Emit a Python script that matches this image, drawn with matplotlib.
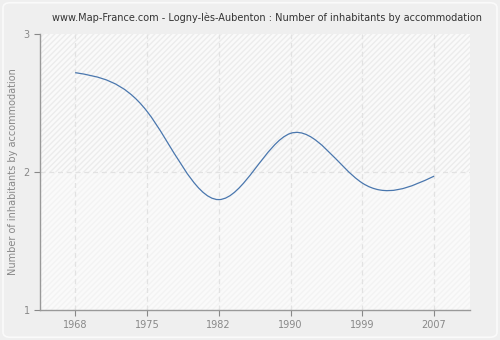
import numpy as np
import matplotlib
matplotlib.use('agg')
import matplotlib.pyplot as plt
from matplotlib.path import Path
from matplotlib.patches import PathPatch, Rectangle, FancyBboxPatch

OUTPUT_FILE = 'out.png'
YEARS       = ['1968', '1975', '1982', '1990', '1999', '2007']
VALUES      = [2.72, 2.44, 1.80, 2.28, 1.92, 1.97]
Y_TICKS     = [1, 2, 3]


def spline_path(y):
    # natural cubic spline slopes on index positions, drawn as bezier segments
    n = len(y)
    a = np.zeros((n, n))
    b = np.zeros(n)
    a[0, 0], a[0, 1], b[0] = 2, 1, 3 * (y[1] - y[0])
    a[-1, -2], a[-1, -1], b[-1] = 1, 2, 3 * (y[-1] - y[-2])
    for i in range(1, n - 1):
        a[i, i - 1], a[i, i], a[i, i + 1] = 1, 4, 1
        b[i] = 3 * (y[i + 1] - y[i - 1])
    d = np.linalg.solve(a, b)
    verts = [(0, y[0])]
    codes = [Path.MOVETO]
    for i in range(n - 1):
        verts += [(i + 1 / 3, y[i] + d[i] / 3),
                  (i + 2 / 3, y[i + 1] - d[i + 1] / 3),
                  (i + 1, y[i + 1])]
        codes += [Path.CURVE4] * 3
    return Path(verts, codes)


if __name__ == '__main__':
    fig = plt.figure(figsize=(5, 3.4), dpi=100)
    fig.patch.set_facecolor('#efefef')
    fig.patches.append(FancyBboxPatch((0.006, 0.008), 0.988, 0.984,
                                      boxstyle='round,pad=0,rounding_size=0.015',
                                      transform=fig.transFigure, facecolor='none',
                                      edgecolor='#fafafa', linewidth=1.2))

    ax = fig.add_axes([40 / 500, 30 / 340, 430 / 500, 276 / 340])
    ax.set_facecolor('#fafafa')
    x = np.arange(len(YEARS))

    ax.set_xlim(-0.49, 5.5)
    ax.set_ylim(1, 3)

    # hatched background, stronger above 2
    ax.add_patch(Rectangle((-0.49, 2), 6, 1, facecolor='none', hatch='//////',
                           edgecolor='#ececec', linewidth=0, zorder=0))
    ax.add_patch(Rectangle((-0.49, 1), 6, 1, facecolor='none', hatch='//////',
                           edgecolor='#f3f3f3', linewidth=0, zorder=0))

    for xi in x:
        ax.axvline(xi, color='#e2e2e2', linestyle=(0, (4, 3)), linewidth=0.9, zorder=1)
    ax.axhline(2, color='#e2e2e2', linestyle=(0, (4, 3)), linewidth=0.9, zorder=1)

    ax.add_patch(PathPatch(spline_path(np.array(VALUES)), facecolor='none',
                           edgecolor='#4a77ae', linewidth=0.9, zorder=3))

    ax.set_xticks(x)
    ax.set_xticklabels(YEARS)
    ax.set_yticks(Y_TICKS)
    ax.tick_params(colors='#888888', labelsize=7, length=4, width=0.8)
    ax.tick_params(axis='x', pad=3)
    for side in ['top', 'right']:
        ax.spines[side].set_visible(False)
    for side in ['left', 'bottom']:
        ax.spines[side].set_color('#999999')
        ax.spines[side].set_linewidth(1)

    ax.set_ylabel('Number of inhabitants by accommodation', color='#888888', fontsize=7)
    fig.text(0.533, 0.947, 'www.Map-France.com - Logny-lès-Aubenton : Number of inhabitants by accommodation',
             ha='center', va='center', fontsize=7, color='#333333')

    plt.savefig(OUTPUT_FILE, facecolor=fig.get_facecolor())
